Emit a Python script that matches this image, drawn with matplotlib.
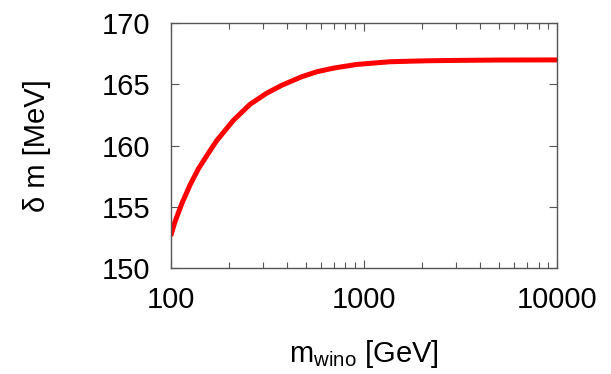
import numpy as np
import matplotlib
matplotlib.use("Agg")
import matplotlib.pyplot as plt
from matplotlib.ticker import FixedLocator, FixedFormatter, LogLocator, NullFormatter

# values
m_wino = [100, 105, 114, 126, 139, 160, 173, 211, 257, 313, 375, 476,
          569, 694, 916, 1362, 2109, 3000, 5000, 10000]
delta_m = [152.63, 153.75, 155.25, 156.8, 158.1, 159.6, 160.4, 162.05,
           163.35, 164.25, 164.9, 165.6, 166.0, 166.3, 166.6, 166.82,
           166.9, 166.93, 166.96, 166.97]

x_ticks = [100, 1000, 10000]
x_tick_labels = ["100", "1000", "10000"]
y_ticks = [150, 155, 160, 165, 170]

plt.rcParams["font.family"] = ["Liberation Sans", "DejaVu Sans"]
plt.rcParams["mathtext.fontset"] = "custom"
plt.rcParams["mathtext.rm"] = "Liberation Sans"
plt.rcParams["mathtext.it"] = "Liberation Sans"

fig = plt.figure(figsize=(6.11, 3.74), dpi=100)
ax = fig.add_axes([0.2794, 0.2826, 0.6327, 0.6567])

ax.plot(m_wino, delta_m, color="#ff0000", lw=3.6, solid_capstyle="butt",
        solid_joinstyle="round")

ax.set_xscale("log")
ax.set_xlim(100, 10000)
ax.set_ylim(150, 170)

ax.xaxis.set_major_locator(FixedLocator(x_ticks))
ax.xaxis.set_major_formatter(FixedFormatter(x_tick_labels))
ax.xaxis.set_minor_locator(LogLocator(base=10, subs=np.arange(2, 10)))
ax.xaxis.set_minor_formatter(NullFormatter())
ax.set_yticks(y_ticks)

ax.tick_params(which="both", direction="in", top=True, right=True,
               colors="#555555", labelcolor="black", labelsize=21)
ax.tick_params(which="major", length=6, width=0.8)
ax.tick_params(which="minor", length=4, width=0.8)
ax.tick_params(axis="x", pad=13)
ax.tick_params(axis="y", pad=15)

for s in ax.spines.values():
    s.set_color("#555555")
    s.set_linewidth(1.0)

ax.set_xlabel(r"m$_{\mathrm{wino}}$ [GeV]", fontsize=21, labelpad=17)
ax.set_ylabel("δ m [MeV]", fontsize=21, labelpad=36)

fig.savefig("out.png", dpi=100)
